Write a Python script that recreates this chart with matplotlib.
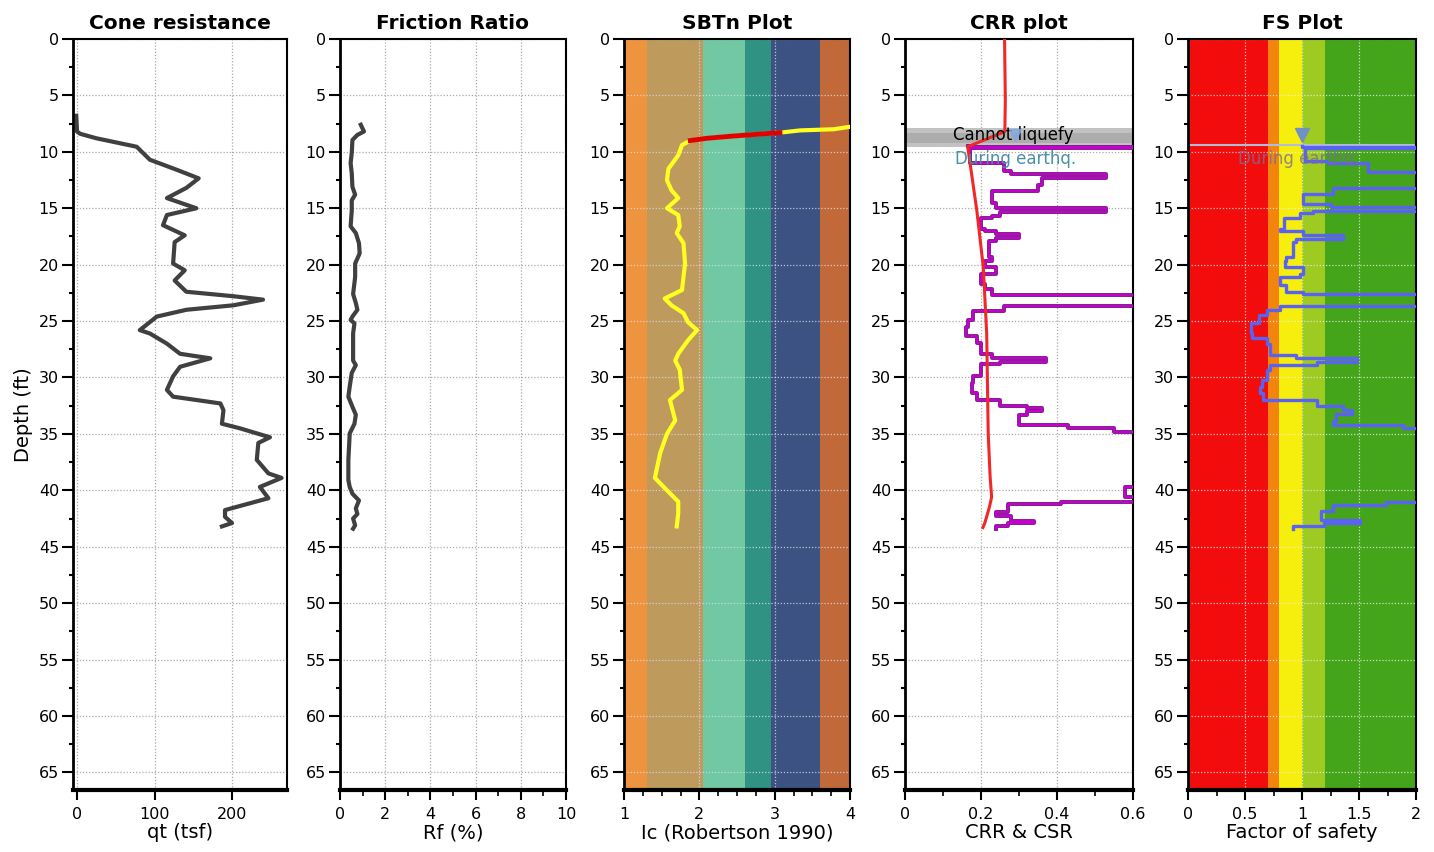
import numpy as np
import matplotlib
matplotlib.use("Agg")
import matplotlib.pyplot as plt
from matplotlib.ticker import MultipleLocator

plt.rcParams['font.family'] = ['DejaVu Sans']

# ---------------- data ----------------
titles = ["Cone resistance", "Friction Ratio", "SBTn Plot", "CRR plot", "FS Plot"]
xlabels = ["qt (tsf)", "Rf (%)", "Ic (Robertson 1990)", "CRR & CSR", "Factor of safety"]

qt_depth = [6.8, 8.2, 8.4, 8.8, 9.55, 10.7, 11.6, 12.35, 13.2, 14.1, 15.0, 15.6, 16.5, 17.4, 18.0,
            19.9, 20.5, 21.4, 22.4, 22.8, 23.1, 23.6, 24.0, 24.6, 25.8, 26.1, 27.0, 27.9, 28.3,
            29.05, 29.9, 31.1, 31.7, 32.3, 32.9, 34.1, 34.5, 35.3, 35.8, 37.3, 38.5, 38.9, 39.7,
            40.7, 41.3, 41.75, 42.35, 42.9, 43.2]
qt = [-1, 0, 4, 25, 77, 94, 129, 157, 141, 116, 154, 116, 111, 139, 126,
      124, 139, 126, 141, 202, 240, 202, 141, 103, 81, 94, 116, 133, 172,
      133, 124, 116, 124, 185, 189, 187, 210, 249, 234, 232, 247, 264, 236,
      247, 215, 191, 191, 200, 187]

rf_depth = [7.6, 8.2, 8.5, 8.95, 10.1, 11.0, 11.9, 13.1, 13.8, 14.3, 15.2, 16.6, 17.2, 18.1, 19.0,
            19.9, 21.1, 22.6, 23.4, 24.0, 24.6, 24.9, 25.2, 26.1, 28.5, 28.9, 29.6, 30.8, 31.7,
            32.6, 33.3, 34.1, 34.96, 37.3, 39.1, 39.7, 40.3, 40.9, 41.6, 42.1, 42.5, 43.1, 43.4]
rf = [0.92, 1.06, 0.77, 0.55, 0.52, 0.47, 0.52, 0.55, 0.67, 0.52, 0.52, 0.47, 0.70, 0.84, 0.87,
      0.67, 0.67, 0.58, 0.70, 0.77, 0.55, 0.47, 0.64, 0.58, 0.58, 0.70, 0.52, 0.43, 0.37,
      0.55, 0.70, 0.64, 0.43, 0.37, 0.37, 0.43, 0.55, 0.84, 0.70, 0.77, 0.58, 0.67, 0.58]

ic_depth = [7.8, 8.0, 8.1, 8.3, 8.6, 8.8, 9.0, 9.4, 10.3, 11.5, 12.5, 13.4, 14.1, 15.0, 15.6,
            16.6, 17.2, 18.1, 19.9, 22.25, 23.0, 23.6, 24.3, 25.1, 25.8, 26.7, 27.9, 28.5, 29.3,
            31.1, 32.0, 33.8, 35.0, 36.7, 38.9, 40.0, 41.0, 42.05, 43.2]
ic = [3.98, 3.78, 3.34, 3.07, 2.45, 2.10, 1.88, 1.77, 1.72, 1.59, 1.57, 1.63, 1.72, 1.57, 1.72,
      1.74, 1.70, 1.79, 1.81, 1.77, 1.54, 1.63, 1.79, 1.85, 1.97, 1.85, 1.72, 1.68, 1.74,
      1.77, 1.61, 1.68, 1.57, 1.48, 1.41, 1.57, 1.72, 1.72, 1.70]
ic_red_range = (8.3, 9.0)   # depths where Ic curve is drawn red

sbt_edges = [1.0, 1.31, 2.05, 2.60, 2.95, 3.60, 4.0]
sbt_colors = ["#EE943E", "#BE9A5C", "#72C8A2", "#2F9282", "#3C5282", "#C2693A"]

csr_depth = [0.0, 5.4, 7.6, 8.2, 9.55, 15.2, 20.2, 26.1, 35.0, 38.8, 40.6, 41.5, 42.9, 43.3]
csr = [0.262, 0.264, 0.263, 0.263, 0.165, 0.189, 0.206, 0.215, 0.219, 0.224, 0.228, 0.222, 0.21, 0.205]

crr_depth = [9.45, 9.55, 9.65, 11.0, 11.7, 12.0, 12.35, 12.9, 13.5, 14.5, 14.95, 15.3, 15.7, 15.9,
             16.8, 17.0, 17.3, 17.6, 17.9, 19.3, 19.7, 20.2, 20.8, 21.7, 22.2, 22.7, 23.7, 24.1,
             24.9, 25.5, 26.3, 26.9, 27.9, 28.3, 28.6, 28.8, 29.9, 30.5, 31.4, 32.0, 32.5, 32.7,
             33.0, 33.3, 34.2, 34.5, 34.8, 39.7, 40.6, 41.0, 41.2, 41.9, 42.3, 42.7, 42.9, 43.2, 43.4]
crr = [0.167, 1.0, 0.17, 0.26, 0.28, 0.53, 0.36, 0.35, 0.23, 0.24, 0.53, 0.25, 0.23, 0.20,
       0.21, 0.24, 0.30, 0.24, 0.22, 0.23, 0.21, 0.24, 0.20, 0.21, 0.23, 1.0, 0.26, 0.18,
       0.165, 0.16, 0.19, 0.20, 0.23, 0.37, 0.25, 0.20, 0.18, 0.175, 0.19, 0.25, 0.32, 0.36,
       0.32, 0.30, 0.43, 0.55, 1.0, 0.58, 1.0, 0.41, 0.27, 0.24, 0.28, 0.34, 0.27, 0.24, 0.24]

fs_depth = [9.45, 9.55, 9.65, 10.8, 11.0, 11.8, 13.2, 13.7, 14.6, 14.9, 15.2, 15.4, 15.9, 16.8,
            17.0, 17.4, 17.7, 18.0, 19.3, 19.7, 20.2, 20.8, 21.1, 21.8, 22.4, 22.6, 23.7, 24.0,
            24.5, 25.2, 26.1, 26.5, 27.0, 28.0, 28.3, 28.6, 28.9, 29.3, 30.2, 30.8, 31.4, 32.0,
            32.5, 32.9, 33.2, 33.9, 34.2, 34.5, 41.0, 41.3, 41.8, 42.6, 42.9, 43.2, 43.4]
fs = [1.0, 2.5, 1.03, 1.23, 1.58, 2.5, 1.27, 1.01, 1.25, 2.5, 1.1, 0.98, 0.84, 0.81,
      1.01, 1.36, 0.95, 0.92, 0.86, 0.85, 1.01, 0.98, 0.81, 0.86, 1.01, 2.5, 0.81, 0.69,
      0.62, 0.55, 0.56, 0.69, 0.72, 0.95, 1.48, 1.13, 0.72, 0.69, 0.65, 0.63, 0.66, 1.13,
      1.36, 1.44, 1.30, 1.27, 1.89, 2.5, 1.74, 1.27, 1.17, 1.51, 1.19, 0.92, 0.92]

fs_edges = [0.0, 0.7, 0.8, 1.0, 1.2, 2.0]
fs_colors = ["#F20C0C", "#F3840E", "#F6EE0C", "#9ECB22", "#44A41A"]

gwt_depth = 9.4
depth_max = 66.56

# ---------------- layout ----------------
W, H = 1434, 852
fig = plt.figure(figsize=(W / 100, H / 100), dpi=100)
panels_px = [(73, 287), (340, 566), (624, 850), (905, 1133), (1188, 1416)]
xlims = [(-5.2, 271), (0, 10), (1, 4), (0, 0.6), (0, 2)]
major = [100, 2, 1, 0.2, 0.5]
minor = [100, 1, 0.25, 0.1, 0.25]
top_px, bot_px = 39, 790

axes = []
for i, (l, r) in enumerate(panels_px):
    ax = fig.add_axes([l / W, 1 - bot_px / H, (r - l) / W, (bot_px - top_px) / H])
    ax.set_xlim(*xlims[i])
    ax.set_ylim(depth_max, 0)
    ax.yaxis.set_major_locator(MultipleLocator(5))
    ax.yaxis.set_minor_locator(MultipleLocator(2.5))
    ax.xaxis.set_major_locator(MultipleLocator(major[i]))
    ax.xaxis.set_minor_locator(MultipleLocator(minor[i]))
    ax.tick_params(axis='y', which='major', length=8, width=1.5, labelsize=11.5, pad=2)
    ax.tick_params(axis='y', which='minor', length=3, width=1.5)
    ax.tick_params(axis='x', which='major', length=7, width=1.5, labelsize=11.5, pad=5)
    ax.tick_params(axis='x', which='minor', length=4, width=1.2)
    ax.set_title(titles[i], fontsize=14.5, fontweight='bold', pad=7)
    ax.set_xlabel(xlabels[i], fontsize=14, labelpad=1)
    for s in ['top', 'right']:
        ax.spines[s].set_linewidth(1.5)
    ax.spines['left'].set_linewidth(2)
    ax.spines['bottom'].set_linewidth(3)
    ax.set_axisbelow(True)
    axes.append(ax)

ax1, ax2, ax3, ax4, ax5 = axes
ax1.set_ylabel("Depth (ft)", fontsize=14, labelpad=4)
ax1.xaxis.set_major_formatter(matplotlib.ticker.FuncFormatter(lambda v, p: f"{v:.0f}"))
ax1.set_xticks([0, 100, 200])
ax1.xaxis.set_minor_locator(matplotlib.ticker.NullLocator())

gkw = dict(linestyle=(0, (1, 1.5)), linewidth=0.9)
# panel 1 & 2
for ax in (ax1, ax2, ax4):
    ax.grid(True, which='major', color='#AAAAAA', **gkw)
ax1.plot(qt, qt_depth, color='#404040', lw=3, solid_joinstyle='round')
ax2.plot(rf, rf_depth, color='#404040', lw=3, solid_joinstyle='round')

# panel 3 SBT
for a, b, c in zip(sbt_edges[:-1], sbt_edges[1:], sbt_colors):
    ax3.axvspan(a, b, color=c, zorder=0, lw=0)
ax3.grid(True, which='major', color='#DCE0F0', alpha=0.8, **gkw)
ax3.xaxis.set_major_formatter(matplotlib.ticker.FuncFormatter(lambda v, p: f"{v:.0f}"))
ic_d = np.array(ic_depth)
ic_v = np.array(ic)
ax3.plot(ic_v, ic_d, color='#FFFF22', lw=3, solid_joinstyle='round', zorder=3)
m = (ic_d >= ic_red_range[0]) & (ic_d <= ic_red_range[1])
ax3.plot(ic_v[m], ic_d[m], color='#E00000', lw=3.5, solid_joinstyle='round', zorder=4)

# panel 4 CRR/CSR
ax4.axhspan(7.9, gwt_depth + 0.15, color='#B8B8B8', alpha=0.85, lw=0, zorder=1)
ax4.axhspan(8.3, gwt_depth - 0.2, color='#9A9A9A', alpha=0.5, lw=0, zorder=1)
ax4.plot(crr, crr_depth, drawstyle='steps-pre', color='#7A1A8C', lw=2.8, zorder=3)
ax4.plot(crr, crr_depth, drawstyle='steps-pre', color='#C800CC', lw=1.4, zorder=4)
ax4.plot(csr, csr_depth, color='#F02828', lw=2.2, zorder=5)
ax4.text(0.285, 8.55, "Cannot liquefy", ha='center', va='center', fontsize=12, color='black', zorder=6)
ax4.plot([0.29], [8.5], marker='v', ms=9, color='#7FA8E0', alpha=0.8, zorder=6, ls='none')
ax4.text(0.29, 10.6, "During earthq.", ha='center', va='center', fontsize=12, color='#4A90A8', zorder=6)
ax4.xaxis.set_major_formatter(matplotlib.ticker.FuncFormatter(lambda v, p: f"{v:g}"))

# panel 5 FS
for a, b, c in zip(fs_edges[:-1], fs_edges[1:], fs_colors):
    ax5.axvspan(a, b, color=c, zorder=0, lw=0)
ax5.grid(True, which='major', color='#F0F0F0', alpha=0.8, **gkw)
ax5.axhline(gwt_depth, color='#B0BCD8', lw=1.5, zorder=2)
ax5.plot(fs, fs_depth, drawstyle='steps-pre', color='#5A62F2', lw=2.4, zorder=3)
ax5.plot([1.0], [8.55], marker='v', ms=10, color='#7090C8', zorder=6, ls='none')
ax5.text(0.97, 10.6, "During earthq.", ha='center', va='center', fontsize=12, color='#7A6E9A', alpha=0.8, zorder=6)
ax5.xaxis.set_major_formatter(matplotlib.ticker.FuncFormatter(lambda v, p: f"{v:g}"))

fig.savefig("out.png", dpi=100)
